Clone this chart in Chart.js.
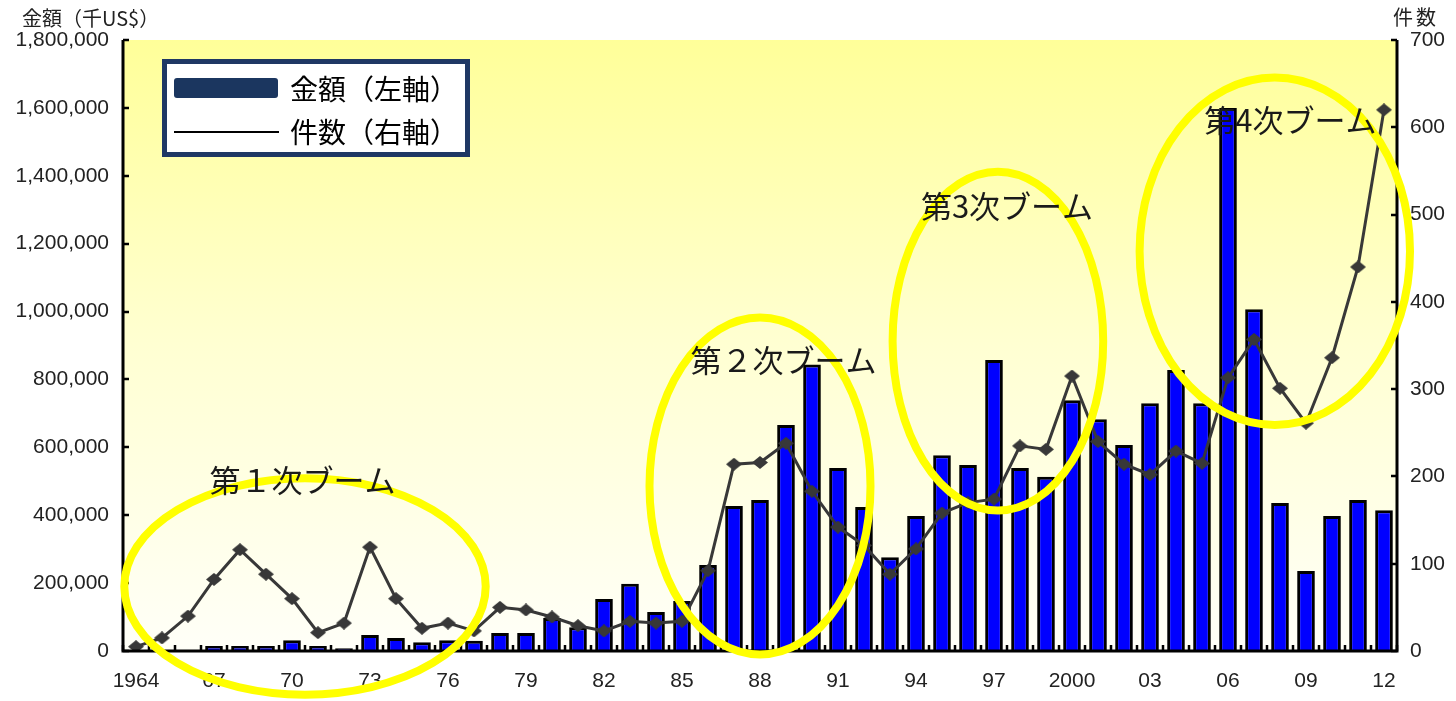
<!DOCTYPE html>
<html lang="ja">
<head>
<meta charset="utf-8">
<title>M&amp;A 金額・件数の推移</title>
<script src="https://cdn.jsdelivr.net/npm/chart.js@4.4.1/dist/chart.umd.min.js"></script>
<style>
  html, body { margin: 0; padding: 0; background: #fff; }
  canvas { display: block; }
</style>
</head>
<body>
<canvas id="chart" width="1456" height="701"></canvas>
<script>
// 年（カテゴリ）
const years = [
  1964, 1965, 1966, 1967, 1968, 1969, 1970, 1971, 1972, 1973,
  1974, 1975, 1976, 1977, 1978, 1979, 1980, 1981, 1982, 1983,
  1984, 1985, 1986, 1987, 1988, 1989, 1990, 1991, 1992, 1993,
  1994, 1995, 1996, 1997, 1998, 1999, 2000, 2001, 2002, 2003,
  2004, 2005, 2006, 2007, 2008, 2009, 2010, 2011, 2012
];

// 横軸に表示する目盛ラベル（3年おき）
const xTickLabels = [
  '1964', '', '', '67', '', '', '70', '', '', '73',
  '', '', '76', '', '', '79', '', '', '82', '',
  '', '85', '', '', '88', '', '', '91', '', '',
  '94', '', '', '97', '', '', '2000', '', '', '03',
  '', '', '06', '', '', '09', '', '', '12'
];

// 金額（千US$、左軸）
const amounts = [
  0, 0, 0, 15000, 15000, 15000, 32000, 15000, 8000, 47000,
  38000, 26000, 32000, 30000, 53000, 53000, 97000, 70000, 153000, 198000,
  115000, 147000, 253000, 427000, 445000, 666000, 844000, 539000, 424000, 276000,
  398000, 577000, 548000, 857000, 539000, 513000, 739000, 683000, 607000, 730000,
  828000, 730000, 1600000, 1007000, 436000, 236000, 398000, 445000, 415000
];

// 件数（右軸）
const counts = [
  5, 15, 40, 82, 116, 88, 60, 21, 32, 119,
  60, 26, 32, 23, 50, 47, 39, 29, 23, 34,
  32, 34, 92, 214, 216, 238, 183, 142, 121, 88,
  117, 158, 170, 174, 235, 231, 315, 240, 214, 202,
  229, 215, 313, 357, 301, 261, 336, 440, 620
];

// 左右の軸の範囲と目盛間隔
const leftAxisMax = 1800000, leftAxisStep = 200000;
const rightAxisMax = 700, rightAxisStep = 100;

// ブームの見出し
const boomTitles = ['第１次ブーム', '第２次ブーム', '第3次ブーム', '第4次ブーム'];

const seriesNames = ['金額（左軸）', '件数（右軸）'];
const axisTitles = ['金額（千US$）', '件数'];

const LATIN = "'Liberation Sans', Arial, 'Noto Sans CJK JP', sans-serif";
const CJK = "'Noto Sans CJK JP', 'Liberation Sans', sans-serif";
const TEXT = '#222222';
const LINE = '#383838';

// ブームを囲む楕円（中心は横軸のカテゴリ位置と右軸の件数、半径はカテゴリ幅と件数）
const boomShapes = [
  { cx: 6.5,  cy: 74,  rx: 6.95, ry: 124, tx: 6.4,  ty: 196 },
  { cx: 24.0, cy: 189, rx: 4.25, ry: 193, tx: 24.9, ty: 333 },
  { cx: 33.15, cy: 355, rx: 4.05, ry: 194, tx: 33.5, ty: 509 },
  { cx: 43.8, cy: 458, rx: 5.2,  ry: 199, tx: 44.4, ty: 608 }
];

// 件数の折れ線に使う、やや横長のひし形マーカー
function makeDiamond(w, h, color) {
  const c = document.createElement('canvas');
  c.width = w; c.height = h;
  const g = c.getContext('2d');
  g.fillStyle = color;
  g.beginPath();
  g.moveTo(w / 2, 0);
  g.lineTo(w, h / 2);
  g.lineTo(w / 2, h);
  g.lineTo(0, h / 2);
  g.closePath();
  g.fill();
  return c;
}
const diamond = makeDiamond(16, 13, LINE);

const plotBackground = {
  id: 'plotBackground',
  beforeDraw(chart) {
    const { ctx, chartArea: a } = chart;
    ctx.save();
    ctx.fillStyle = '#ffffff';
    ctx.fillRect(0, 0, chart.width, chart.height);
    const g = ctx.createLinearGradient(0, a.top, 0, a.bottom);
    g.addColorStop(0, '#ffff99');
    g.addColorStop(0.5, '#ffffd2');
    g.addColorStop(1, '#fffff8');
    ctx.fillStyle = g;
    ctx.fillRect(a.left, a.top, a.right - a.left, a.bottom - a.top);
    ctx.restore();
  }
};

const axesAndNotes = {
  id: 'axesAndNotes',
  afterDatasetsDraw(chart) {
    const { ctx, chartArea: a, scales } = chart;
    const x = scales.x, yl = scales.y, yr = scales.y1;
    ctx.save();

    // 軸線
    ctx.strokeStyle = '#000';
    ctx.lineWidth = 3;
    ctx.beginPath();
    ctx.moveTo(a.left, a.top); ctx.lineTo(a.left, a.bottom);
    ctx.moveTo(a.right, a.top); ctx.lineTo(a.right, a.bottom);
    ctx.moveTo(a.left - 1.5, a.bottom); ctx.lineTo(a.right + 1.5, a.bottom);
    ctx.stroke();

    // 内向きの目盛
    ctx.lineWidth = 2.5;
    ctx.beginPath();
    for (let v = 0; v <= leftAxisMax; v += leftAxisStep) {
      const py = Math.round(yl.getPixelForValue(v));
      ctx.moveTo(a.left, py); ctx.lineTo(a.left + 6, py);
    }
    for (let v = 0; v <= rightAxisMax; v += rightAxisStep) {
      const py = Math.round(yr.getPixelForValue(v));
      ctx.moveTo(a.right, py); ctx.lineTo(a.right - 6, py);
    }
    for (let i = 0; i <= years.length; i++) {
      const px = Math.round(x.getPixelForValue(i - 0.5));
      ctx.moveTo(px, a.bottom); ctx.lineTo(px, a.bottom - 6);
    }
    ctx.stroke();

    // ブームの楕円
    const catW = x.getPixelForValue(1) - x.getPixelForValue(0);
    const cntH = yr.getPixelForValue(0) - yr.getPixelForValue(1);
    ctx.strokeStyle = '#ffff00';
    ctx.lineWidth = 8;
    boomShapes.forEach(s => {
      ctx.beginPath();
      ctx.ellipse(x.getPixelForValue(s.cx), yr.getPixelForValue(s.cy),
                  s.rx * catW, s.ry * cntH, 0, 0, Math.PI * 2);
      ctx.stroke();
    });

    // ブームの見出し
    ctx.fillStyle = '#1a1a1a';
    ctx.font = '31px ' + CJK;
    ctx.textAlign = 'center';
    ctx.textBaseline = 'middle';
    boomShapes.forEach((s, i) => {
      ctx.fillText(boomTitles[i], x.getPixelForValue(s.tx), yr.getPixelForValue(s.ty));
    });

    // 凡例
    ctx.fillStyle = '#ffffff';
    ctx.fillRect(164, 61, 304, 94);
    ctx.strokeStyle = '#1f3864';
    ctx.lineWidth = 5;
    ctx.strokeRect(164.5, 61.5, 303, 93);
    ctx.fillStyle = '#1b365f';
    ctx.beginPath();
    ctx.roundRect(174, 78, 104, 20, 3);
    ctx.fill();
    ctx.strokeStyle = '#000';
    ctx.lineWidth = 2;
    ctx.beginPath();
    ctx.moveTo(174, 132); ctx.lineTo(279, 132);
    ctx.stroke();
    ctx.fillStyle = '#000';
    ctx.font = '28px ' + CJK;
    ctx.textAlign = 'left';
    ctx.fillText(seriesNames[0], 290, 89);
    ctx.fillText(seriesNames[1], 290, 132);

    // 軸タイトル
    ctx.fillStyle = TEXT;
    ctx.font = '20px ' + CJK;
    ctx.textAlign = 'left';
    ctx.fillText(axisTitles[0], 22, 18);
    ctx.letterSpacing = '3px';
    ctx.fillText(axisTitles[1], 1393, 17);

    ctx.restore();
  }
};

new Chart(document.getElementById('chart'), {
  type: 'bar',
  data: {
    labels: years.map(String),
    datasets: [
      {
        type: 'line',
        label: seriesNames[1],
        data: counts,
        yAxisID: 'y1',
        order: 0,
        borderColor: LINE,
        borderWidth: 3,
        backgroundColor: LINE,
        pointStyle: diamond,
        pointRadius: 7,
        tension: 0
      },
      {
        type: 'bar',
        label: seriesNames[0],
        data: amounts,
        yAxisID: 'y',
        order: 1,
        backgroundColor: '#0000ff',
        borderColor: '#000000',
        borderWidth: 3,
        borderSkipped: 'start',
        barPercentage: 0.68,
        categoryPercentage: 1
      }
    ]
  },
  options: {
    responsive: false,
    animation: false,
    devicePixelRatio: 1,
    layout: { padding: { top: 40, left: 0, right: 0, bottom: 0 } },
    plugins: {
      legend: { display: false },
      tooltip: { enabled: false }
    },
    scales: {
      x: {
        grid: { display: false, drawTicks: false },
        border: { display: false },
        ticks: {
          autoSkip: false,
          maxRotation: 0,
          padding: 18,
          color: TEXT,
          font: { family: LATIN, size: 21 },
          callback: (v, i) => xTickLabels[i]
        },
        afterFit: s => { s.height = 50; }
      },
      y: {
        position: 'left',
        min: 0,
        max: leftAxisMax,
        grid: { display: false, drawTicks: false },
        border: { display: false },
        ticks: {
          stepSize: leftAxisStep,
          padding: 14,
          color: TEXT,
          font: { family: LATIN, size: 21 },
          callback: v => v.toLocaleString('en-US')
        },
        afterFit: s => { s.width = 123; }
      },
      y1: {
        position: 'right',
        min: 0,
        max: rightAxisMax,
        grid: { display: false, drawTicks: false },
        border: { display: false },
        ticks: {
          stepSize: rightAxisStep,
          padding: 13,
          color: TEXT,
          font: { family: LATIN, size: 21 }
        },
        afterFit: s => { s.width = 59; }
      }
    }
  },
  plugins: [plotBackground, axesAndNotes]
});
</script>
</body>
</html>
